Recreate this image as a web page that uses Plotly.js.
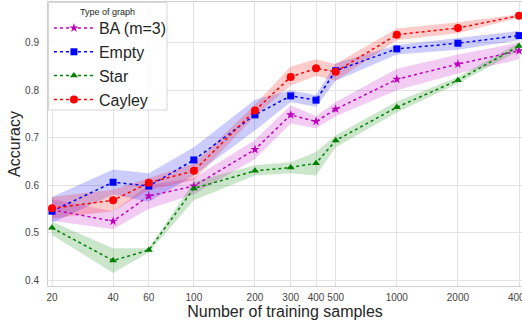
<!DOCTYPE html>
<html>
<head>
<meta charset="utf-8">
<script src="https://cdn.plot.ly/plotly-3.0.1.min.js"></script>
<style>html,body{margin:0;padding:0;background:#fff;}#chart{width:522px;height:321px;}</style>
</head>
<body>
<div id="chart"></div>
<script>
const samples = [20, 40, 60, 100, 200, 300, 400, 500, 1000, 2000, 4000];
const tickLabels = ["20", "40", "60", "100", "200", "300", "400", "500", "1000", "2000", "4000"];

const baMean  = [0.548, 0.524, 0.577, 0.598, 0.675, 0.748, 0.734, 0.760, 0.823, 0.855, 0.883];
const baLow   = [0.525, 0.507, 0.550, 0.580, 0.655, 0.730, 0.720, 0.745, 0.800, 0.835, 0.865];
const baHigh  = [0.570, 0.545, 0.600, 0.615, 0.695, 0.768, 0.745, 0.775, 0.845, 0.875, 0.900];

const emptyMean = [0.545, 0.606, 0.598, 0.653, 0.748, 0.788, 0.779, 0.841, 0.887, 0.899, 0.915];
const emptyLow  = [0.520, 0.580, 0.565, 0.620, 0.715, 0.775, 0.765, 0.820, 0.875, 0.885, 0.905];
const emptyHigh = [0.575, 0.633, 0.625, 0.680, 0.780, 0.800, 0.790, 0.857, 0.895, 0.910, 0.925];

const starMean = [0.510, 0.441, 0.463, 0.593, 0.630, 0.637, 0.646, 0.694, 0.764, 0.821, 0.893];
const starLow  = [0.495, 0.415, 0.458, 0.568, 0.620, 0.625, 0.620, 0.680, 0.753, 0.814, 0.883];
const starHigh = [0.523, 0.467, 0.467, 0.607, 0.642, 0.648, 0.670, 0.705, 0.776, 0.828, 0.900];

const cayleyMean = [0.551, 0.568, 0.605, 0.630, 0.757, 0.828, 0.846, 0.839, 0.917, 0.931, 0.957];
const cayleyLow  = [0.530, 0.545, 0.590, 0.610, 0.745, 0.810, 0.830, 0.820, 0.905, 0.920, 0.953];
const cayleyHigh = [0.575, 0.590, 0.615, 0.645, 0.770, 0.850, 0.865, 0.855, 0.930, 0.943, 0.960];

const seriesNames = ["BA (m=3)", "Empty", "Star", "Cayley"];
const legendTitle = "Type of graph";

const series = [
  {name: seriesNames[0], mean: baMean, lo: baLow, hi: baHigh, color: "#bf00bf", fill: "rgba(191,0,191,0.2)", symbol: "star", size: 7},
  {name: seriesNames[1], mean: emptyMean, lo: emptyLow, hi: emptyHigh, color: "#0000ff", fill: "rgba(0,0,255,0.2)", symbol: "square", size: 7},
  {name: seriesNames[2], mean: starMean, lo: starLow, hi: starHigh, color: "#008000", fill: "rgba(0,128,0,0.2)", symbol: "triangle-up", size: 7},
  {name: seriesNames[3], mean: cayleyMean, lo: cayleyLow, hi: cayleyHigh, color: "#ff0000", fill: "rgba(255,0,0,0.2)", symbol: "circle", size: 8}
];

const traces = [];
series.forEach(s => {
  traces.push({
    x: samples.concat(samples.slice().reverse()),
    y: s.hi.concat(s.lo.slice().reverse()),
    type: "scatter", mode: "lines", fill: "toself", fillcolor: s.fill,
    line: {width: 0, color: s.fill}, hoverinfo: "skip", showlegend: false
  });
});
series.forEach(s => {
  traces.push({
    x: samples, y: s.mean, name: s.name, type: "scatter", mode: "lines+markers",
    line: {color: s.color, width: 1.5, dash: "dot"},
    marker: {color: s.color, symbol: s.symbol, size: s.size}
  });
});

const layout = {
  width: 522, height: 321,
  margin: {l: 48, r: 0, t: 2, b: 35},
  paper_bgcolor: "#ffffff", plot_bgcolor: "#ffffff",
  font: {family: "Liberation Sans, Arial, sans-serif", color: "#262626"},
  showlegend: true,
  legend: {
    x: 0.002, y: 0.968, xanchor: "left", yanchor: "top",
    bgcolor: "rgba(0,0,0,0)", borderwidth: 0,
    font: {size: 16, color: "#262626"},
    itemwidth: 40,
    tracegroupgap: 0
  },
  shapes: [{
    type: "rect", xref: "paper", yref: "paper",
    x0: 0.001, x1: 0.251, y0: 0.6197, y1: 0.998,
    line: {color: "#d6d6d6", width: 1},
    fillcolor: "rgba(255,255,255,0.8)", layer: "above"
  }],
  annotations: [{
    text: legendTitle, xref: "paper", yref: "paper",
    x: 0.1245, y: 0.965, xanchor: "center", yanchor: "middle",
    showarrow: false, font: {size: 9, color: "#262626"}
  }],
  xaxis: {
    type: "log",
    range: [Math.log10(20) - 0.0197, Math.log10(4000) + 0.0148],
    tickvals: samples, ticktext: tickLabels,
    tickfont: {size: 10, color: "#444"},
    ticklabelstandoff: 2,
    ticklabeloverflow: "allow",
    showgrid: true, gridcolor: "#e3e3e3", gridwidth: 1,
    showline: true, mirror: true, linecolor: "#d0d0d0", linewidth: 1,
    zeroline: false,
    title: {text: "Number of training samples", font: {size: 16, color: "#262626"}, standoff: 0}
  },
  yaxis: {
    range: [0.3874, 0.9858],
    tickvals: [0.4, 0.5, 0.6, 0.7, 0.8, 0.9],
    ticktext: ["0.4", "0.5", "0.6", "0.7", "0.8", "0.9"],
    tickfont: {size: 10, color: "#444"},
    ticklabelstandoff: 6,
    showgrid: true, gridcolor: "#e3e3e3", gridwidth: 1,
    showline: true, mirror: true, linecolor: "#d0d0d0", linewidth: 1,
    zeroline: false,
    title: {text: "Accuracy", font: {size: 16, color: "#262626"}, standoff: 0}
  }
};

Plotly.newPlot("chart", traces, layout, {displayModeBar: false, staticPlot: true});
</script>
</body>
</html>
